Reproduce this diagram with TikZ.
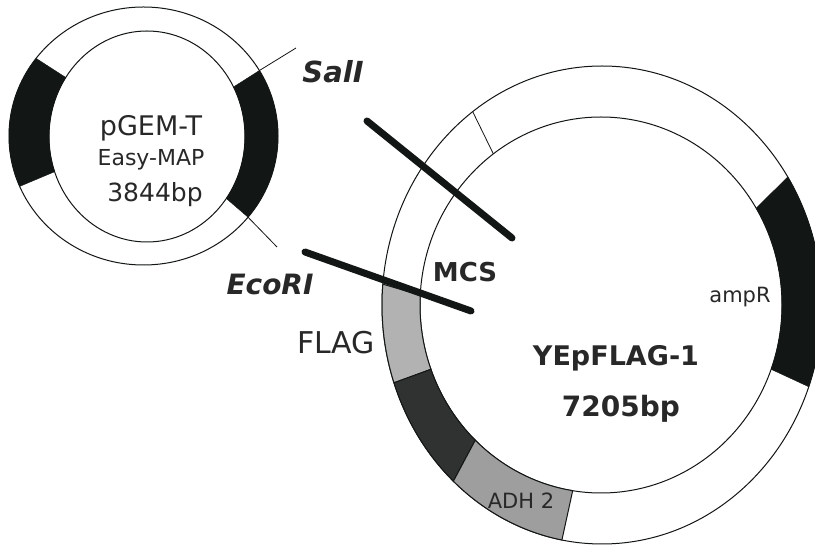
\documentclass[tikz,border=0pt]{standalone}
\usepackage{xcolor}
\usepackage{fontspec}
\setmainfont{DejaVu Sans}
\usetikzlibrary{positioning, calc}
\definecolor{mapblack}{RGB}{18, 22, 20}
\definecolor{flaggray}{RGB}{178, 178, 178}
\definecolor{adhgray}{RGB}{158, 158, 158}
\definecolor{termdark}{RGB}{48, 50, 50}
\definecolor{labelink}{RGB}{40, 40, 40}
\tikzset{
    ringline/.style={draw=mapblack, line width=1pt},
    siteline/.style={draw=mapblack, line width=0.8pt},
    cutline/.style={draw=mapblack, line width=7pt, line cap=round},
    maplabel/.style={text=labelink, inner sep=0pt, anchor=center},
    sitelabel/.style={maplabel, font=\fontsize{29}{32}\selectfont\bfseries\itshape},
}
% one ring band: style, outer start and end angle, inner end and start angle
\newcommand{\bigband}[5]{
    \path[#1] ($(bigout)+(#2:220 and 239)$) arc[start angle=#2, end angle=#3, x radius=220, y radius=239]
        -- ($(bigin)+(#4:181 and 188)$) arc[start angle=#4, end angle=#5, x radius=181, y radius=188] -- cycle;
}
\newcommand{\smallband}[5]{
    \path[#1] ($(smallout)+(#2:134.5 and 129)$) arc[start angle=#2, end angle=#3, x radius=134.5, y radius=129]
        -- ($(smallin)+(#4:98 and 105.5)$) arc[start angle=#4, end angle=#5, x radius=98, y radius=105.5] -- cycle;
}
\begin{document}
\begin{tikzpicture}[x=1pt, y=1pt]
    \clip (0,0) rectangle (815,546);
    \fill[white] (0,0) rectangle (815,546);
    \coordinate (smallout) at (143.5,410);
    \coordinate (smallin) at (147,409.5);
    \coordinate (bigout) at (602,241);
    \coordinate (bigin) at (601,241);

    % pGEM map
    \draw[ringline] (smallout) ellipse[x radius=134.5, y radius=129];
    \draw[ringline] (smallin) ellipse[x radius=98, y radius=105.5];
    \smallband{fill=mapblack, draw=mapblack}{143}{203}{199.5}{146}
    \smallband{fill=mapblack, draw=mapblack}{30.5}{-39}{-36}{28}

    % YEpFLAG map
    \draw[ringline] (bigout) ellipse[x radius=220, y radius=239];
    \draw[ringline] (bigin) ellipse[x radius=181, y radius=188];
    \bigband{fill=mapblack, draw=mapblack}{32.4}{-20}{-20}{31}
    \bigband{fill=flaggray, ringline}{175}{199}{200}{177}
    \bigband{fill=termdark, ringline}{199}{227.5}{226}{200}
    \bigband{fill=adhgray, ringline}{227.5}{259.5}{261}{226}
    \coordinate (mcsout) at ($(bigout)+(126:220 and 239)$);
    \coordinate (mcsin) at ($(bigin)+(126.5:181 and 188)$);
    \draw[siteline] (mcsout) -- (mcsin);

    % restriction sites
    \coordinate (salbase) at ($(smallout)+(30.5:134.5 and 129)$);
    \coordinate (salend) at (296,498);
    \coordinate (ecobase) at ($(smallout)+(-39:134.5 and 129)$);
    \coordinate (ecoend) at (277,299);
    \draw[siteline] (salbase) -- (salend);
    \draw[siteline] (ecobase) -- (ecoend);

    % insert lines
    \coordinate (salcutA) at (367,425);
    \coordinate (salcutB) at (512,308);
    \coordinate (ecocutA) at (305,294);
    \coordinate (ecocutB) at (471,235);
    \draw[cutline] (salcutA) -- (salcutB);
    \draw[cutline] (ecocutA) -- (ecocutB);

    % labels
    \node[maplabel, font=\fontsize{27}{30}\selectfont] (pgemname) at (151,418) {pGEM-T};
    \node[maplabel, font=\fontsize{22}{24}\selectfont] (pgemeasy) at (151,386) {Easy-MAP};
    \node[maplabel, font=\fontsize{25}{28}\selectfont] (pgemsize) at (155,351) {3844bp};
    \node[sitelabel] (sallabel) at (333,474) {SalI};
    \node[sitelabel, font=\fontsize{28}{32}\selectfont\bfseries\itshape] (ecolabel) at (270,262) {EcoRI};
    \node[maplabel, font=\fontsize{26}{28}\selectfont\bfseries] (mcslabel) at (465,274) {MCS};
    \node[maplabel, font=\fontsize{30}{32}\selectfont] (flaglabel) at (336,203) {FLAG};
    \node[maplabel, font=\fontsize{27}{30}\selectfont\bfseries] (yeplabel) at (616,188) {YEpFLAG-1};
    \node[maplabel, font=\fontsize{28}{30}\selectfont\bfseries] (yepsize) at (621,137) {7205bp};
    \node[maplabel, font=\fontsize{21}{24}\selectfont] (amplabel) at (740,249) {ampR};
    \node[maplabel, font=\fontsize{21}{22}\selectfont] (adhlabel) at (521,45) {ADH 2};
\end{tikzpicture}
\end{document}
